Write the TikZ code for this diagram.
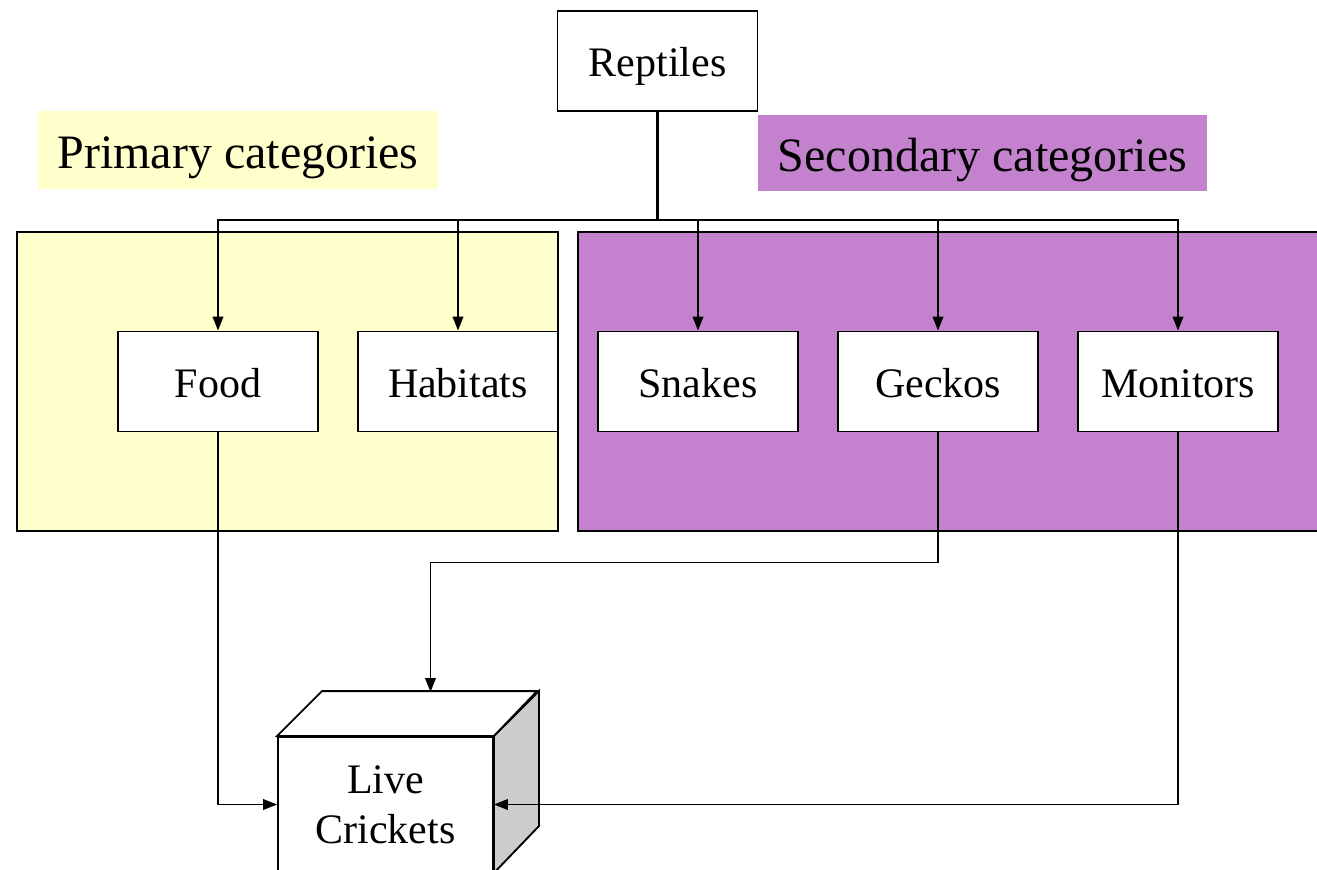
\documentclass[tikz,border=0pt]{standalone}
\usepackage{fontspec}
\setmainfont{Liberation Serif}
\usetikzlibrary{arrows.meta}
\definecolor{pale}{HTML}{FFFFCC}
\definecolor{orchid}{RGB}{196,129,206}
\definecolor{sidegray}{RGB}{204,204,204}
\begin{document}
\begin{tikzpicture}[x=0.75pt,y=-0.75pt,
 catbox/.style={draw=black,line width=1.4pt,fill=white,minimum width=150pt,minimum height=75pt,inner sep=0pt,text height=23.6pt,text depth=0pt,font=\fontsize{31.5}{37.5}\selectfont},
 panel/.style={draw=black,line width=1.2pt},
 tag/.style={inner sep=0pt,text height=27pt,text depth=0pt,font=\fontsize{36}{40}\selectfont},
 link/.style={line width=1.3pt,-{Triangle[length=10.5pt,width=8pt]}},
 stem/.style={line width=1.9pt},
 cubeface/.style={draw=black,line width=1.4pt},
]
\useasboundingbox (0,0) rectangle (1317,869);
\clip (0,0) rectangle (1317,869);
% panels
\draw[panel,fill=pale] (17,232) rectangle (558,531);
\draw[panel,fill=orchid] (578,232) rectangle (1340,531);
% tags
\node[tag,fill=pale,minimum width=300pt,minimum height=58.5pt] (ptag) at (238,150) {Primary categories};
\node[tag,fill=orchid,minimum width=336.75pt,minimum height=57pt] (stag) at (982.5,153) {Secondary categories};
% boxes
\node[catbox] (rep) at (657.5,61) {Reptiles};
\node[catbox] (food) at (218,381.5) {Food};
\node[catbox] (hab) at (458,381.5) {Habitats};
\node[catbox] (snk) at (698,381.5) {Snakes};
\node[catbox] (geck) at (938,381.5) {Geckos};
\node[catbox] (mon) at (1178,381.5) {Monitors};
% cube
\node[cubeface,fill=white,minimum width=161.25pt,minimum height=101.25pt,inner sep=0pt,align=center,font=\fontsize{31.5}{37.5}\selectfont] (crick) at (385.5,804.5) {Live\\Crickets};
\draw[cubeface,fill=white] (crick.north west) -- ++(45,-45) -- ++(215,0) -- (crick.north east) -- cycle;
\draw[cubeface,fill=sidegray] (crick.north east) -- ++(45,-45) -- ++(0,135) -- (crick.south east) -- cycle;
\coordinate (cubetop) at (430.5,692);
% connectors
\coordinate (bus) at (657.5,220);
\draw[stem] (rep.south) -- (bus);
\draw[link] (rep.south) -- (bus) -| (food.north);
\draw[link] (rep.south) -- (bus) -| (hab.north);
\draw[link] (rep.south) -- (bus) -| (snk.north);
\draw[link] (rep.south) -- (bus) -| (geck.north);
\draw[link] (rep.south) -- (bus) -| (mon.north);
\draw[link] (food.south) |- (crick.west);
\draw[link] (mon.south) |- (crick.east);
\draw[link] (geck.south) -- ++(0,130) -| (cubetop);
\end{tikzpicture}
\end{document}
